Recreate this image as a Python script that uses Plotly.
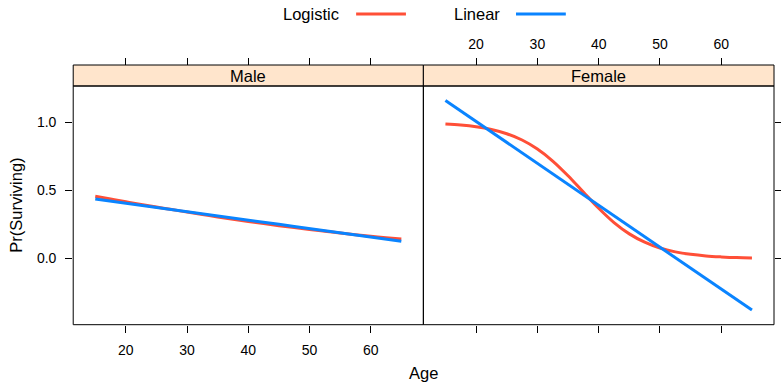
import plotly.graph_objects as go

# ---- data ----
ages = [15, 17.5, 20, 22.5, 25, 27.5, 30, 32.5, 35, 37.5, 40,
        42.5, 45, 47.5, 50, 52.5, 55, 57.5, 60, 62.5, 65]
male_logistic = [0.456, 0.436, 0.416, 0.397, 0.378, 0.359, 0.341, 0.323, 0.305, 0.288, 0.272,
                 0.257, 0.241, 0.227, 0.213, 0.200, 0.187, 0.175, 0.164, 0.153, 0.143]
male_linear = [0.436, 0.421, 0.405, 0.390, 0.374, 0.359, 0.343, 0.328, 0.312, 0.297, 0.282,
               0.266, 0.251, 0.235, 0.220, 0.204, 0.189, 0.173, 0.158, 0.142, 0.127]
female_logistic = [0.987, 0.979, 0.966, 0.946, 0.915, 0.869, 0.803, 0.715, 0.607, 0.487, 0.369,
                   0.264, 0.181, 0.120, 0.077, 0.049, 0.031, 0.019, 0.012, 0.007, 0.0045]
female_linear = [1.159, 1.082, 1.005, 0.928, 0.852, 0.775, 0.698, 0.621, 0.544, 0.467, 0.391,
                 0.314, 0.237, 0.160, 0.083, 0.006, -0.071, -0.148, -0.224, -0.301, -0.378]
panels = ["Male", "Female"]
series_names = ["Logistic", "Linear"]
x_ticks = [20, 30, 40, 50, 60]
y_ticks = [0.0, 0.5, 1.0]
y_tick_labels = ["0.0", "0.5", "1.0"]

# ---- style ----
W, H = 781, 382
RED = "#FF4F37"
BLUE = "#0A84FF"
STRIP = "#FFE5CC"
FONT = "Liberation Sans, Arial, sans-serif"
MAIN_SIZE = 16.5
TICK_SIZE = 14

def px(x):
    return x / W

def py(y):
    return 1 - y / H

P_LEFT, P_MID, P_RIGHT = 73.5, 425.0, 777.0
P_TOP, P_BOT = 86.0, 324.7
S_TOP = 65.0
XR = [11.4, 68.6]
YR = [-0.485, 1.265]

fig = go.Figure()

data = {
    "Male": (male_logistic, male_linear),
    "Female": (female_logistic, female_linear),
}
for i, p in enumerate(panels):
    xa = "x" if i == 0 else "x2"
    ya = "y" if i == 0 else "y2"
    lg, ln = data[p]
    fig.add_trace(go.Scatter(x=ages, y=lg, xaxis=xa, yaxis=ya, mode="lines",
                             line=dict(color=RED, width=3, shape="spline"),
                             name=series_names[0], showlegend=False, hoverinfo="skip"))
    fig.add_trace(go.Scatter(x=ages, y=ln, xaxis=xa, yaxis=ya, mode="lines",
                             line=dict(color=BLUE, width=3),
                             name=series_names[1], showlegend=False, hoverinfo="skip"))

# invisible traces to carry the top axes
fig.add_trace(go.Scatter(x=[40], y=[0], xaxis="x3", yaxis="y", mode="markers",
                         marker=dict(opacity=0), showlegend=False, hoverinfo="skip"))
fig.add_trace(go.Scatter(x=[40], y=[0], xaxis="x4", yaxis="y2", mode="markers",
                         marker=dict(opacity=0), showlegend=False, hoverinfo="skip"))

common_x = dict(range=XR, tickvals=x_ticks, ticks="outside", ticklen=7, tickwidth=1,
                tickcolor="black", showgrid=False, zeroline=False, showline=False,
                tickfont=dict(family=FONT, size=TICK_SIZE, color="black"), fixedrange=True)
common_y = dict(range=YR, tickvals=y_ticks, ticktext=y_tick_labels, ticks="outside", ticklen=7,
                tickwidth=1, tickcolor="black", showgrid=False, zeroline=False, showline=False,
                tickfont=dict(family=FONT, size=TICK_SIZE, color="black"), fixedrange=True)

d_male = [px(P_LEFT), px(P_MID)]
d_female = [px(P_MID), px(P_RIGHT)]
d_y = [py(P_BOT), py(P_TOP)]

fig.update_layout(
    width=W, height=H, autosize=False,
    margin=dict(l=0, r=0, t=0, b=0),
    paper_bgcolor="white", plot_bgcolor="rgba(0,0,0,0)",
    showlegend=False,
    xaxis=dict(domain=d_male, anchor="y", side="bottom", ticklabelstandoff=5, **common_x),
    xaxis2=dict(domain=d_female, anchor="y2", side="bottom", showticklabels=False, **common_x),
    xaxis3=dict(domain=d_male, anchor="free", position=py(S_TOP), side="top",
                overlaying="x", showticklabels=False, **common_x),
    xaxis4=dict(domain=d_female, anchor="free", position=py(S_TOP), side="top",
                overlaying="x2", ticklabelstandoff=3, **common_x),
    yaxis=dict(domain=d_y, anchor="x", side="left", ticklabelstandoff=6, **common_y),
    yaxis2=dict(domain=d_y, anchor="x2", side="right", showticklabels=False, **common_y),
)

shapes = []
# strips and panel frames
for (x0, x1) in [(P_LEFT, P_MID), (P_MID, P_RIGHT)]:
    shapes.append(dict(type="rect", xref="paper", yref="paper",
                       x0=px(x0), x1=px(x1), y0=py(P_TOP), y1=py(S_TOP),
                       fillcolor=STRIP, line=dict(color="black", width=1), layer="below"))
    shapes.append(dict(type="rect", xref="paper", yref="paper",
                       x0=px(x0), x1=px(x1), y0=py(P_BOT), y1=py(P_TOP),
                       fillcolor="rgba(0,0,0,0)", line=dict(color="black", width=1), layer="above"))

# legend keys (text then line)
legend_items = [("Logistic", RED, 282.5, 357.5, 407.5), ("Linear", BLUE, 454.0, 518.0, 568.0)]
annotations = []
LEG_Y = 14.0
for name, col, tx, l0, l1 in legend_items:
    annotations.append(dict(text=name, xref="paper", yref="paper", x=px(tx), y=py(LEG_Y),
                            xanchor="left", yanchor="middle", showarrow=False,
                            font=dict(family=FONT, size=MAIN_SIZE, color="black")))
    shapes.append(dict(type="line", xref="paper", yref="paper", x0=px(l0), x1=px(l1),
                       y0=py(LEG_Y), y1=py(LEG_Y), line=dict(color=col, width=3)))

# strip labels
for name, (x0, x1) in zip(panels, [(P_LEFT, P_MID), (P_MID, P_RIGHT)]):
    annotations.append(dict(text=name, xref="paper", yref="paper", x=px((x0 + x1) / 2),
                            y=py((S_TOP + P_TOP) / 2), xanchor="center", yanchor="middle",
                            showarrow=False, font=dict(family=FONT, size=MAIN_SIZE, color="black")))

# axis titles
annotations.append(dict(text="Age", xref="paper", yref="paper", x=px((P_LEFT + P_RIGHT) / 2),
                        y=py(373), xanchor="center", yanchor="middle", showarrow=False,
                        font=dict(family=FONT, size=MAIN_SIZE, color="black")))
annotations.append(dict(text="Pr(Surviving)", xref="paper", yref="paper", x=px(16.5),
                        y=py((P_TOP + P_BOT) / 2), xanchor="center", yanchor="middle",
                        textangle=-90, showarrow=False,
                        font=dict(family=FONT, size=MAIN_SIZE, color="black")))

fig.update_layout(shapes=shapes, annotations=annotations)
fig.write_html("out.html")
